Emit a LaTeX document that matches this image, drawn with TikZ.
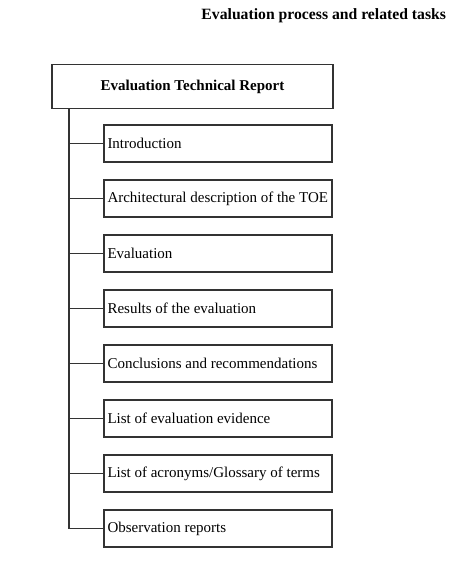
\documentclass[tikz,border=0pt]{standalone}
\usepackage{fontspec}
\setmainfont{Liberation Serif}
\begin{document}
\begin{tikzpicture}[x=1pt,y=-1pt,
  line width=1.3pt,
  rootbox/.style={draw=black!80, minimum width=281pt, minimum height=44pt, inner sep=0pt, font=\fontsize{15}{17}\selectfont\bfseries},
  itembox/.style={draw=black!80, minimum width=228pt, minimum height=37pt, inner sep=0pt, text width=221pt, align=flush left, font=\fontsize{15}{17}\selectfont},
  branch/.style={draw=black!80, line width=1.3pt}
]
\useasboundingbox (0,0) rectangle (472,564);
\node[font=\fontsize{15.7}{18}\selectfont\bfseries, anchor=east] (title) at (450,16) {Evaluation process and related tasks};
\node[rootbox] (root) at (192.5,86.5) {Evaluation Technical Report};
\foreach \i/\t in {0/{Introduction},
                   1/{Architectural description of the TOE},
                   2/{Evaluation},
                   3/{Results of the evaluation},
                   4/{Conclusions and recommendations},
                   5/{List of evaluation evidence},
                   6/{List of acronyms/Glossary of terms},
                   7/{Observation reports}}
  \node[itembox] (c\i) at (218,143.5+55*\i) {\t};
\coordinate (trunk) at (69,0);
\draw[branch] (root.south -| trunk) |- (c7.west);
\foreach \i in {0,...,6}
  \draw[branch] (c\i.west -| trunk) -- (c\i.west);
\end{tikzpicture}
\end{document}
